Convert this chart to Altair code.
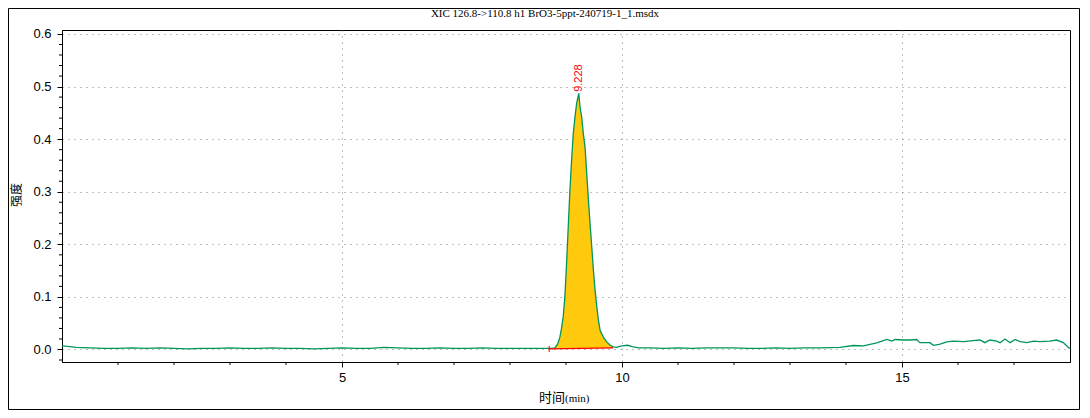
import altair as alt
import pandas as pd

# ---------------- text ----------------
title_text = "XIC 126.8->110.8 h1 BrO3-5ppt-240719-1_1.msdx"
x_title_cn = "时间"
x_title_unit = "(min)"
y_title = "强度"

# ---------------- chromatogram ----------------
base1_t = [0.0, 0.1, 0.25, 0.5, 0.75, 1.0, 1.25, 1.5, 1.75, 2.0, 2.25, 2.5, 2.75, 3.0,
           3.25, 3.5, 3.75, 4.0, 4.25, 4.5, 4.75, 5.0, 5.25, 5.5, 5.75, 6.0, 6.25, 6.5,
           6.75, 7.0, 7.25, 7.5, 7.75, 8.0, 8.25, 8.5, 8.7]
base1_v = [0.007, 0.006, 0.004, 0.003, 0.002, 0.002, 0.003, 0.002, 0.003, 0.002, 0.001,
           0.002, 0.002, 0.003, 0.002, 0.002, 0.003, 0.002, 0.002, 0.001, 0.002, 0.003,
           0.002, 0.002, 0.004, 0.003, 0.002, 0.002, 0.003, 0.002, 0.002, 0.003, 0.002,
           0.002, 0.002, 0.002, 0.002]

peak_t = [8.76, 8.80, 8.85, 8.89, 8.92, 8.95, 8.98, 9.01, 9.04, 9.07, 9.10, 9.13, 9.16,
          9.19, 9.228, 9.25, 9.28, 9.31, 9.34, 9.37, 9.40, 9.43, 9.46, 9.49, 9.52, 9.55,
          9.58, 9.61, 9.67, 9.73, 9.78, 9.84, 9.90]
peak_v = [0.002, 0.003, 0.010, 0.023, 0.040, 0.062, 0.100, 0.163, 0.233, 0.303, 0.360,
          0.410, 0.442, 0.468, 0.487, 0.462, 0.442, 0.410, 0.385, 0.335, 0.284, 0.239,
          0.195, 0.150, 0.112, 0.081, 0.055, 0.036, 0.023, 0.014, 0.009, 0.005, 0.004]

base2_t = [10.0, 10.1, 10.2, 10.3, 10.5, 10.75, 11.0, 11.25, 11.5, 11.75, 12.0, 12.25,
           12.5, 12.75, 13.0, 13.25, 13.54, 13.89, 14.13, 14.31, 14.55, 14.73, 14.82,
           14.88, 15.02, 15.14, 15.26, 15.32, 15.5, 15.56, 15.68, 15.8, 15.92, 16.1,
           16.27, 16.39, 16.48, 16.57, 16.69, 16.75, 16.84, 16.93, 17.02, 17.11, 17.23,
           17.35, 17.46, 17.64, 17.76, 17.88, 17.97, 18.0]
base2_v = [0.007, 0.008, 0.005, 0.003, 0.003, 0.002, 0.003, 0.002, 0.003, 0.003, 0.003,
           0.002, 0.002, 0.003, 0.002, 0.003, 0.003, 0.004, 0.0076, 0.007, 0.0127, 0.019,
           0.016, 0.019, 0.018, 0.018, 0.019, 0.013, 0.013, 0.008, 0.010, 0.0145, 0.016,
           0.015, 0.017, 0.018, 0.013, 0.018, 0.016, 0.013, 0.020, 0.013, 0.019, 0.015,
           0.013, 0.016, 0.015, 0.016, 0.018, 0.013, 0.004, 0.002]

# integrated peak
peak_start = 8.70
peak_end = 9.84
peak_base_start = 0.001
peak_base_end = 0.003
peak_rt = 9.228
peak_label_y = 0.49

# ---------------- axes ----------------
x_domain = [0, 18]
y_domain = [-0.0238, 0.6076]
x_major = [5, 10, 15]
x_minor = [1, 2, 3, 4, 6, 7, 8, 9, 11, 12, 13, 14, 16, 17]
y_major = [0.0, 0.1, 0.2, 0.3, 0.4, 0.5, 0.6]
y_minor = [-0.02, 0.02, 0.04, 0.06, 0.08, 0.12, 0.14, 0.16, 0.18, 0.22, 0.24, 0.26, 0.28,
           0.32, 0.34, 0.36, 0.38, 0.42, 0.44, 0.46, 0.48, 0.52, 0.54, 0.56, 0.58]

W, H = 1008, 332
LINE_COLOR = "#00965A"
FILL_COLOR = "#FFC90E"

df = pd.DataFrame({"t": base1_t + peak_t + base2_t, "v": base1_v + peak_v + base2_v})

pk = df[(df.t >= peak_start) & (df.t <= peak_end)].copy()
pk["b"] = peak_base_start + (pk.t - peak_start) / (peak_end - peak_start) * (peak_base_end - peak_base_start)

xs = alt.Scale(domain=x_domain, nice=False, zero=False)
ys = alt.Scale(domain=y_domain, nice=False, zero=False)
x_axis = alt.Axis(values=x_major, format="d", tickSize=5, labelPadding=4, grid=True, title=None)
y_axis = alt.Axis(values=y_major, format=".1f", tickSize=5, labelPadding=6, grid=True, title=None)


def X(field):
    return alt.X(field, scale=xs, axis=x_axis)


def Y(field):
    return alt.Y(field, scale=ys, axis=y_axis)


line = alt.Chart(df).mark_line(color=LINE_COLOR, strokeWidth=1.3).encode(
    x=X("t:Q"), y=Y("v:Q"),
)

area = alt.Chart(pk).mark_area(color=FILL_COLOR, opacity=1).encode(
    x=X("t:Q"), y=Y("v:Q"), y2="b:Q",
)

base_df = pd.DataFrame({"t": [peak_start], "t2": [peak_end],
                        "v": [peak_base_start], "v2": [peak_base_end]})
base_rule = alt.Chart(base_df).mark_rule(color="red", strokeWidth=1.3).encode(
    x=X("t:Q"), x2="t2:Q", y=Y("v:Q"), y2="v2:Q",
)
tick_df = pd.DataFrame({"t": [peak_start], "lo": [-0.005], "hi": [0.007]})
start_tick = alt.Chart(tick_df).mark_rule(color="red", strokeWidth=1).encode(
    x=X("t:Q"), y=Y("lo:Q"), y2="hi:Q",
)

peak_df = pd.DataFrame({"t": [peak_rt], "v": [peak_label_y], "label": [f"{peak_rt:.3f}"]})
peak_label = alt.Chart(peak_df).mark_text(angle=270, align="left", baseline="middle",
                                          color="red", fontSize=11,
                                          font="Liberation Sans").encode(
    x=X("t:Q"), y=Y("v:Q"), text="label:N",
)

y_minor_rules = alt.Chart(pd.DataFrame({"v": y_minor})).mark_rule(color="black").encode(
    y=Y("v:Q"), x=alt.value(0), x2=alt.value(-3),
)
x_minor_rules = alt.Chart(pd.DataFrame({"t": x_minor})).mark_rule(color="black").encode(
    x=X("t:Q"), y=alt.value(H), y2=alt.value(H + 3),
)

one = pd.DataFrame({"a": [0]})
title_mark = alt.Chart(one).mark_text(text=title_text, font="Liberation Serif", fontSize=11,
                                      align="center", baseline="middle", color="black").encode(
    x=alt.value(483), y=alt.value(-16))
ytitle_mark = alt.Chart(one).mark_text(text=y_title, font="Noto Sans CJK SC", fontSize=12,
                                       angle=270, align="center", baseline="middle",
                                       color="black").encode(
    x=alt.value(-45), y=alt.value(165))
xtitle_cn = alt.Chart(one).mark_text(text=x_title_cn, font="Noto Sans CJK SC", fontSize=13,
                                     align="right", baseline="alphabetic", color="black").encode(
    x=alt.value(503), y=alt.value(372))
xtitle_unit = alt.Chart(one).mark_text(text=x_title_unit, font="Liberation Serif", fontSize=11,
                                       align="left", baseline="alphabetic", color="black").encode(
    x=alt.value(503), y=alt.value(372))
frame = alt.Chart(one).mark_rect(fillOpacity=0, stroke="black", strokeWidth=1).encode(
    x=alt.value(-53.5), x2=alt.value(1017.5), y=alt.value(-21.5), y2=alt.value(379.5))

chart = alt.layer(
    area, line, base_rule, start_tick, peak_label, y_minor_rules, x_minor_rules,
    title_mark, ytitle_mark, xtitle_cn, xtitle_unit, frame,
).properties(
    width=W, height=H,
    autosize=alt.AutoSizeParams(type="none"),
    padding={"left": 54, "top": 22, "right": 10, "bottom": 48},
    background="white",
).configure_view(
    stroke="black", strokeWidth=1,
).configure_axis(
    labelFont="Liberation Sans", labelFontSize=13, labelColor="black",
    domainColor="black", domainWidth=1, tickColor="black", tickWidth=1,
    gridColor="#7f7f7f", gridDash=[1, 5], gridWidth=1, gridOpacity=1,
)

chart.save("out.html", embed_options={"renderer": "svg", "actions": False})
